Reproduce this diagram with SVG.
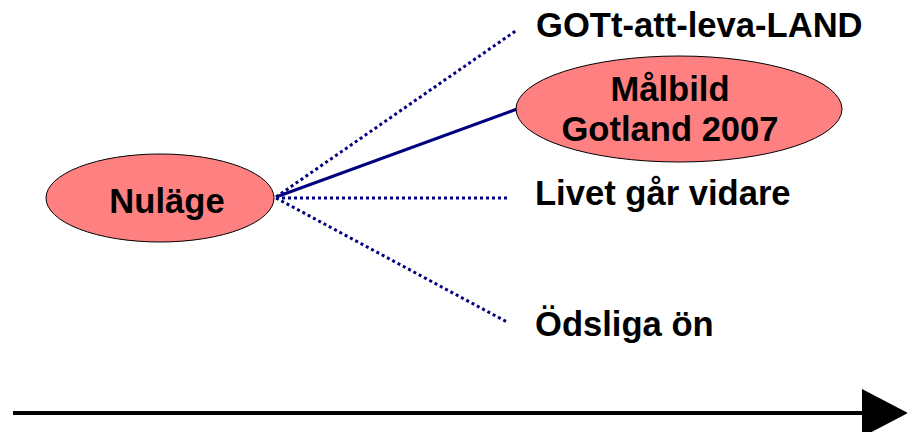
<svg xmlns="http://www.w3.org/2000/svg" width="907" height="432" viewBox="0 0 907 432">
<style>
.node{fill:#FF8080;stroke:#000;stroke-width:1}
.t{font-family:"Liberation Sans",Arial,sans-serif;font-weight:bold;font-size:34.6px;fill:#000}
.c{text-anchor:middle}
.dot{stroke:#000080;stroke-width:3;stroke-dasharray:3 3;fill:none}
.solid{stroke:#000080;stroke-width:3;fill:none}
</style>
<rect width="907" height="432" fill="#fff"/>
<g id="connectors">
<line class="dot" x1="276" y1="197" x2="517" y2="30"/>
<line class="solid" x1="276" y1="197" x2="517" y2="109"/>
<line class="dot" x1="276" y1="198" x2="507" y2="198"/>
<line class="dot" x1="276" y1="198" x2="507" y2="322"/>
<line x1="13" y1="413" x2="864" y2="413" stroke="#000" stroke-width="4"/>
<polygon points="862,389 908,413 862,437" fill="#000"/>
</g>
<g id="nulage">
<ellipse class="node" cx="160" cy="198" rx="114" ry="44"/>
<text class="t c" x="167" y="213">Nuläge</text>
</g>
<g id="malbild">
<ellipse class="node" cx="679" cy="109" rx="163" ry="53"/>
<text class="t c" x="670" y="101">Målbild</text>
<text class="t c" x="670" y="141">Gotland 2007</text>
</g>
<g id="got">
<text class="t" x="536" y="37">GOTt-att-leva-LAND</text>
</g>
<g id="livet">
<text class="t" x="535" y="205">Livet går vidare</text>
</g>
<g id="odsliga">
<text class="t" x="535" y="336">Ödsliga ön</text>
</g>
</svg>
